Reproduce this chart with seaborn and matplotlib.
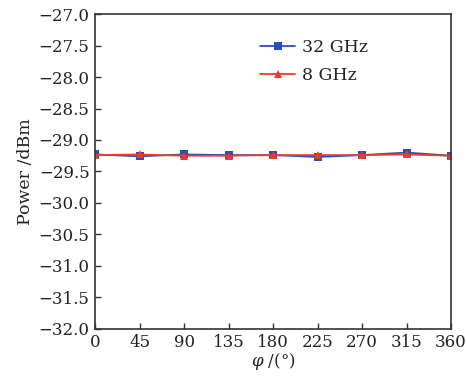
import numpy as np
import pandas as pd
import matplotlib
matplotlib.use('Agg')
import matplotlib.pyplot as plt
import seaborn as sns

# Data
phi = [0, 45, 90, 135, 180, 225, 270, 315, 360]
power_32ghz = [-29.23, -29.26, -29.23, -29.24, -29.24, -29.27, -29.24, -29.20, -29.25]
power_8ghz = [-29.24, -29.23, -29.25, -29.25, -29.24, -29.24, -29.24, -29.23, -29.25]
x_ticks = phi
y_ticks = [-32.0, -31.5, -31.0, -30.5, -30.0, -29.5, -29.0, -28.5, -28.0, -27.5, -27.0]

df = pd.DataFrame({
    'phi': phi * 2,
    'power': power_32ghz + power_8ghz,
    'band': ['32 GHz'] * len(phi) + ['8 GHz'] * len(phi),
})

sns.set_style('ticks')
plt.rcParams['font.family'] = ['DejaVu Serif']
plt.rcParams['mathtext.fontset'] = 'dejavuserif'
plt.rcParams['text.color'] = '#222222'
plt.rcParams['axes.labelcolor'] = '#222222'
plt.rcParams['xtick.labelcolor'] = '#222222'
plt.rcParams['ytick.labelcolor'] = '#222222'

fig = plt.figure(figsize=(4.66, 3.81), dpi=100)
ax = fig.add_axes([0.204, 0.137, 0.764, 0.826])

sns.lineplot(data=df, x='phi', y='power', hue='band', style='band',
             palette={'32 GHz': '#2a4fb8', '8 GHz': '#f03a2a'},
             markers={'32 GHz': 's', '8 GHz': '^'}, dashes=False,
             markersize=6, linewidth=1.3, markeredgewidth=0, ax=ax)

ax.set_xlim(0, 360)
ax.set_ylim(-32, -27)
ax.set_xticks(x_ticks)
ax.set_yticks(y_ticks)
ax.set_yticklabels([f'\u2212{abs(v):.1f}' for v in y_ticks])
ax.tick_params(direction='in', length=4, width=1, labelsize=12, color='#333333', pad=4)
for s in ax.spines.values():
    s.set_color('#333333')
    s.set_linewidth(1.2)

ax.set_xlabel(r'$\varphi$ /(°)', fontsize=12, labelpad=0)
ax.set_ylabel('Power /dBm', fontsize=12.5, labelpad=3)

leg = ax.legend(loc='upper left', bbox_to_anchor=(0.42, 0.97), frameon=False,
                fontsize=12.5, handlelength=2.0, handletextpad=0.4, labelspacing=0.6)

fig.savefig('out.png', dpi=100)
